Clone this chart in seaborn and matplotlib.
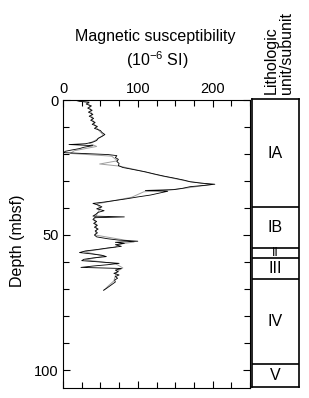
import matplotlib
matplotlib.use("Agg")
import matplotlib.pyplot as plt
import seaborn as sns
import pandas as pd
from matplotlib.ticker import MultipleLocator, FixedLocator

# ---- data ----
depth_black = [0.0, 0.5, 0.8, 1.5, 2.2, 3.0, 3.8, 4.5, 5.3, 6.0, 6.8, 7.5, 8.3, 9.0, 9.8,
               10.5, 11.3, 12.0, 12.8, 13.5, 14.2, 15.0, 15.6, 16.2, 16.5, 16.9, 17.5, 18.0,
               18.5, 19.0, 19.5, 20.2, 20.6, 21.3, 22.0, 22.8, 23.5, 24.3, 25.0, 25.8, 26.6,
               27.4, 28.2, 29.0, 29.7, 30.3, 30.8, 31.2, 31.6, 32.1, 32.7, 33.2, 33.5, 33.8,
               34.4, 35.2, 35.9, 36.6, 37.2, 37.8, 38.3, 39.0, 39.6, 40.3, 41.0, 41.6, 42.3,
               43.0, 43.3, 43.6, 44.3, 45.0, 45.7, 46.4, 47.1, 47.8, 48.5, 49.2, 50.0, 50.7,
               51.4, 51.9, 52.3, 52.7, 53.1, 53.6, 54.2, 54.8, 55.4, 55.9, 56.5, 57.0, 57.5,
               58.0, 58.5, 59.0, 59.5, 60.0, 60.5, 61.0, 61.5, 62.0, 62.4, 63.0, 63.6, 64.2,
               64.8, 65.4, 66.0, 66.7, 67.4, 68.2, 69.0, 69.8, 70.5]
susc_black = [15, 22, 35, 31, 38, 33, 39, 34, 40, 35, 41, 37, 43, 39, 46,
              42, 50, 52, 56, 52, 47, 45, 40, 30, 8, 40, 28, 22,
              12, 3, 1, 60, 72, 70, 74, 72, 75, 74, 80, 95, 110,
              122, 135, 150, 162, 170, 185, 203, 190, 170, 160, 148, 110, 140,
              130, 117, 100, 85, 70, 55, 40, 48, 52, 45, 55, 47, 44,
              40, 82, 42, 40, 45, 41, 46, 42, 47, 43, 46, 42, 45,
              60, 75, 100, 70, 82, 70, 78, 60, 45, 30, 22, 38, 52,
              58, 40, 28, 25, 50, 75, 60, 40, 24, 78, 70, 74, 68,
              75, 70, 73, 69, 70, 66, 62, 58, 54]

depth_gray = [0.2, 1.0, 3.0, 5.0, 7.0, 9.0, 11.0, 13.0, 15.0, 16.0, 17.2, 18.8, 19.8, 20.8,
              22.5, 23.7, 24.5, 26.0, 28.0, 30.0, 31.3, 32.5, 33.4, 34.0, 36.0, 38.5, 40.0,
              42.0, 44.0, 46.0, 48.0, 50.0, 52.0, 52.6, 53.4, 54.5, 56.2, 57.8, 59.2, 60.6,
              62.2, 63.5, 65.0, 67.0, 69.0, 70.4]
susc_gray = [20, 34, 36, 38, 39, 42, 47, 54, 43, 35, 45, 15, 10, 65,
             73, 49, 76, 100, 130, 165, 198, 168, 140, 108, 92, 45, 50,
             46, 42, 44, 45, 43, 85, 95, 75, 70, 28, 55, 30, 70,
             80, 72, 70, 68, 60, 55]

unit_names = ["IA", "IB", "II", "III", "IV", "V"]
unit_tops = [0.0, 40.0, 55.2, 58.9, 66.7, 98.0]
unit_bottoms = [40.0, 55.2, 58.9, 66.7, 98.0, 106.5]

x_tick_labels = [0, 100, 200]
y_tick_labels = [0, 50, 100]

# ---- figure ----
sns.set_theme(style="white")
plt.rcParams['font.family'] = ['Liberation Sans', 'DejaVu Sans']

W, H = 309, 398
fig = plt.figure(figsize=(W / 100, H / 100), dpi=100)

ax_l, ax_r, ax_t, ax_b = 63, 250, 100, 388
ax = fig.add_axes([ax_l / W, 1 - ax_b / H, (ax_r - ax_l) / W, (ax_b - ax_t) / H])

df_b = pd.DataFrame({"depth": depth_black, "susc": susc_black})
df_g = pd.DataFrame({"depth": depth_gray, "susc": susc_gray})
sns.lineplot(data=df_g, x="susc", y="depth", orient="y", sort=False, estimator=None,
             color="#a0a0a0", linewidth=0.7, ax=ax)
sns.lineplot(data=df_b, x="susc", y="depth", orient="y", sort=False, estimator=None,
             color="black", linewidth=0.6, ax=ax)

ymax = (ax_b - ax_t) / 2.7
ax.set_ylim(ymax, 0)
ax.set_xlim(0, 250)
ax.set_xlabel("")
ax.set_ylabel("")

ax.xaxis.set_major_locator(FixedLocator(x_tick_labels))
ax.xaxis.set_minor_locator(MultipleLocator(25))
ax.yaxis.set_major_locator(FixedLocator(y_tick_labels))
ax.yaxis.set_minor_locator(MultipleLocator(10))
ax.tick_params(axis="x", which="both", direction="in", top=True, bottom=True,
               labeltop=True, labelbottom=False, labelsize=10.5, pad=3, colors="black")
ax.tick_params(axis="y", which="both", direction="in", left=True, right=True,
               labelleft=True, labelright=False, labelsize=10.5, pad=3, colors="black")
ax.tick_params(which="major", length=5, width=0.8)
ax.tick_params(which="minor", length=4, width=0.8)
for s in ax.spines.values():
    s.set_color("black")
    s.set_linewidth(0.8)

# ---- lithologic column ----
lx_l, lx_r = 252, 299
ax2 = fig.add_axes([lx_l / W, 1 - 387 / H, (lx_r - lx_l) / W, (387 - 99.3) / H])
ax2.set_xlim(0, 1)
ax2.set_ylim(unit_bottoms[-1], 0)
for name, top, bot in zip(unit_names, unit_tops, unit_bottoms):
    if top > 0:
        ax2.axhline(top, color="black", linewidth=1.2)
    ax2.text(0.5, (top + bot) / 2, name, ha="center", va="center",
             fontsize=11.5 if name != "II" else 9, color="black")
ax2.set_xticks([])
ax2.set_yticks([])
for s in ax2.spines.values():
    s.set_color("black")
    s.set_linewidth(1.2)

# ---- texts ----
fig.text(155 / W, 1 - 36 / H, "Magnetic susceptibility", ha="center", va="center",
         fontsize=11.5, color="black")
fig.text(157 / W, 1 - 60 / H, r"(10$^{\mathregular{-6}}$ SI)", ha="center", va="center",
         fontsize=11.5, color="black")
fig.text(279 / W, 1 - 94 / H, "Lithologic\nunit/subunit", rotation=90, ha="center",
         va="bottom", multialignment="left", fontsize=11.5, linespacing=1.05, color="black")
fig.text(18 / W, 1 - 241 / H, "Depth (mbsf)", rotation=90, ha="center", va="center",
         fontsize=11.5, color="black")

fig.savefig("out.png", dpi=100)
